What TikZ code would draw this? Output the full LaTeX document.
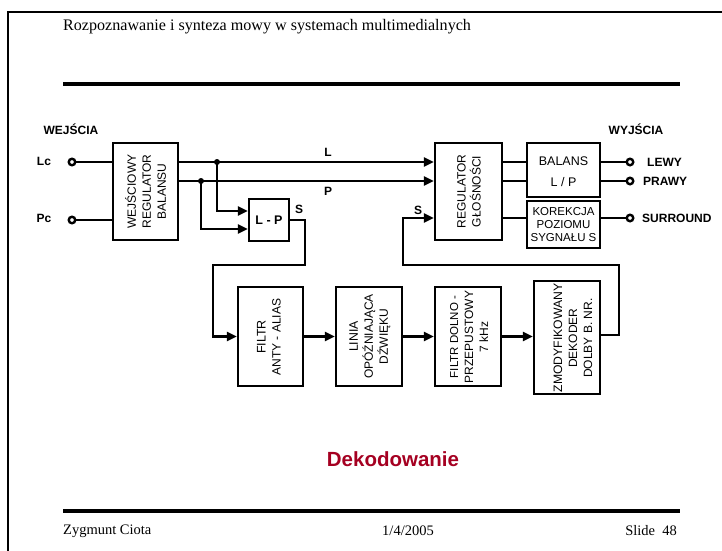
\documentclass[tikz,border=0pt]{standalone}
\usepackage{fontspec}
\setmainfont{Liberation Serif}
\setsansfont{Liberation Sans}
\usetikzlibrary{arrows.meta}
\definecolor{dekred}{HTML}{A50021}
\begin{document}
\begin{tikzpicture}[x=1pt,y=-1pt,
  blk/.style={draw, line width=2.4pt, inner sep=0pt},
  wire/.style={line width=2.4pt},
  arr/.style={wire, -{Triangle[length=10pt,width=9pt]}},
  rtxt/.style={font=\sffamily\fontsize{12}{15}\selectfont, align=center, rotate=90, inner sep=0pt},
  htxt/.style={font=\sffamily\fontsize{11.5}{13}\selectfont, align=center, inner sep=0pt},
  lbl/.style={font=\sffamily\bfseries\fontsize{12}{14}\selectfont, inner sep=0pt},
  port/.style={circle, draw, line width=2.4pt, minimum size=6.5pt, inner sep=0pt, fill=white},
  jdot/.style={circle, fill, minimum size=6pt, inner sep=0pt},
  slide/.style={font=\fontsize{14.5}{16}\selectfont, inner sep=0pt},
  rule/.style={line width=4.8pt}]

\useasboundingbox (0,0) rectangle (722,550);
\draw[line width=2pt] (8,552) -- (8,12) -- (724,12);

% header / footer
\node[slide, anchor=west, font=\fontsize{16.1}{18}\selectfont] (title) at (63,27) {Rozpoznawanie i synteza mowy w systemach multimedialnych};
\draw[rule] (63,84) -- (680,84);
\draw[rule] (63,511) -- (680,511);
\node[slide, anchor=west] (auth) at (63,531) {Zygmunt Ciota};
\node[slide] (date) at (408,531) {1/4/2005};
\node[slide, anchor=east] (sl) at (677,531) {Slide\ \ 48};
\node[font=\sffamily\bfseries\fontsize{20.5}{24}\selectfont, text=dekred, inner sep=0pt] (dek) at (393,459) {Dekodowanie};

% coordinates
\coordinate (yL) at (0,162);
\coordinate (yP) at (0,181);
\coordinate (yLP1) at (0,211);
\coordinate (yLP2) at (0,229);
\coordinate (yS) at (0,218);

% blocks
\node[blk, minimum width=65pt, minimum height=97pt] (wr) at (145.5,191.5) {};
\node[rtxt] (wrt) at (wr.center) {\fontsize{12}{19.5}\selectfont WEJŚCIOWY\\REGULATOR\\BALANSU};
\node[blk, minimum width=40pt, minimum height=42pt] (lp) at (269,220) {};
\node[lbl, font=\sffamily\bfseries\fontsize{12.5}{14}\selectfont] (lpt) at (lp.center) {L - P};
\node[blk, minimum width=67pt, minimum height=97pt] (rg) at (468.5,191.5) {};
\node[rtxt] (rgt) at (469,191.5) {\fontsize{12}{20}\selectfont REGULATOR\\GŁOŚNOŚCI};
\node[blk, minimum width=73pt, minimum height=54pt] (bal) at (563.5,170) {};
\node[htxt, font=\sffamily\fontsize{12.5}{14}\selectfont] (balt1) at (563.5,161) {BALANS};
\node[htxt, font=\sffamily\fontsize{12.5}{14}\selectfont] (balt2) at (563.5,182) {L / P};
\node[blk, minimum width=73pt, minimum height=47pt] (kor) at (563.5,224.5) {};
\node[htxt] (kort) at (kor.center) {KOREKCJA\\POZIOMU\\SYGNAŁU S};
\node[blk, minimum width=65pt, minimum height=99pt] (f1) at (270.5,336.5) {};
\node[rtxt] (f1t) at (269,337) {\fontsize{12.5}{22}\selectfont FILTR\\ANTY - ALIAS};
\node[blk, minimum width=66pt, minimum height=99pt] (f2) at (369,336.5) {};
\node[rtxt] (f2t) at (370,336.5) {\fontsize{12.3}{17}\selectfont LINIA\\OPÓŹNIAJĄCA\\DŹWIĘKU};
\node[blk, minimum width=66pt, minimum height=99pt] (f3) at (468,336.5) {};
\node[rtxt] (f3t) at (469,337) {\fontsize{11.5}{16}\selectfont FILTR DOLNO -\\PRZEPUSTOWY\\7 kHz};
\node[blk, minimum width=66pt, minimum height=113pt] (f4) at (567,337.5) {};
\node[rtxt] (f4t) at (573,338) {\fontsize{12.2}{18}\selectfont ZMODYFIKOWANY\\DEKODER\\DOLBY B. NR.};

% ports and labels
\node[lbl] (wej) at (71,129) {WEJŚCIA};
\node[lbl] (wyj) at (636,129) {WYJŚCIA};
\node[lbl] (lct) at (44,161) {Lc};
\node[lbl] (pct) at (44,218) {Pc};
\coordinate (lc) at (72,162);
\coordinate (pc) at (72,220);
\coordinate (lw) at (630,162);
\coordinate (pr) at (630,181);
\coordinate (su) at (630,218);
\node[lbl, anchor=west] (lwt) at (647,162) {LEWY};
\node[lbl, anchor=west] (prt) at (643,181) {PRAWY};
\node[lbl, anchor=west] (sut) at (642,218) {SURROUND};
\node[lbl] (Lt) at (328,152) {L};
\node[lbl] (Pt) at (328,191) {P};
\node[lbl] (S1) at (299,209) {S};
\node[lbl] (S2) at (418,210) {S};

% wires
\draw[wire] (lc) -- (lc -| wr.west);
\draw[wire] (pc) -- (pc -| wr.west);
\draw[arr] (wr.east |- yL) -- (rg.west |- yL);
\draw[arr] (wr.east |- yP) -- (rg.west |- yP);
\coordinate (jL) at (217,162);
\coordinate (jP) at (201,181);
\draw[arr] (jL) |- (lp.west |- yLP1);
\draw[arr] (jP) |- (lp.west |- yLP2);
\node[jdot] (jLd) at (jL) {};
\node[jdot] (jPd) at (jP) {};
\coordinate (s1) at (305,265);
\coordinate (s2) at (213,265);
\draw[arr] (lp.east) -| (s1) -- (s2) |- (f1.west);
\draw[arr] (f1.east) -- (f2.west);
\draw[arr] (f2.east) -- (f3.west);
\draw[arr] (f3.east) -- (f4.west |- f3.east);
\coordinate (r1) at (619,265);
\coordinate (r2) at (403,265);
\coordinate (yO) at (0,335);
\draw[arr] (f4.east |- yO) -| (r1) -- (r2) |- (rg.west |- yS);
\draw[wire] (rg.east |- yL) -- (bal.west |- yL);
\draw[wire] (rg.east |- yP) -- (bal.west |- yP);
\draw[wire] (rg.east |- yS) -- (kor.west |- yS);
\draw[wire] (bal.east |- lw) -- (lw);
\draw[wire] (bal.east |- pr) -- (pr);
\draw[wire] (kor.east |- su) -- (su);
\node[port] (lcp) at (lc) {};
\node[port] (pcp) at (pc) {};
\node[port] (lwp) at (lw) {};
\node[port] (prp) at (pr) {};
\node[port] (sup) at (su) {};
\end{tikzpicture}
\end{document}
